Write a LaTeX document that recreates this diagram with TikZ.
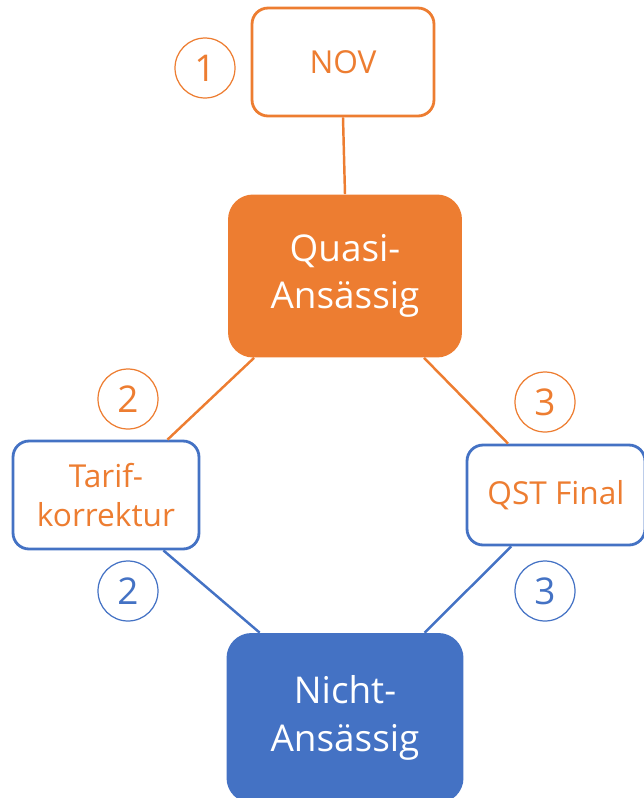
\documentclass[tikz,border=0pt]{standalone}
\usepackage{fontspec}
\setmainfont{Open Sans}
\usepackage{tikz}
\usetikzlibrary{
  positioning,
  calc
}
\definecolor{myOrange}{HTML}{ED7D31}
\definecolor{myBlue}{HTML}{4472C4}
\tikzstyle{framebox}=[draw, line width=1.6pt, fill=white, rounded corners=0.32cm, align=center, text=myOrange, font=\fontsize{18}{22}\selectfont]
\tikzstyle{solidbox}=[rounded corners=0.5cm, align=center, text=white, font=\fontsize{21}{27}\selectfont]
\tikzstyle{stepmark}=[circle, draw, line width=0.7pt, minimum size=1.2cm, inner sep=0pt, font=\fontsize{21}{21}\selectfont]
\tikzstyle{link}=[line width=1.4pt]

\begin{document}
\begin{tikzpicture}[x=0.02cm, y=-0.02cm]
      \useasboundingbox (0,0) rectangle (643,798);

      % 状態
      \node[framebox, draw=myOrange, minimum width=3.64cm, minimum height=2.16cm] (nov) at (343,62) {NOV};
      \node[solidbox, fill=myOrange, minimum width=4.68cm, minimum height=3.26cm] (quasi) at (345,276) {Quasi-\\Ansässig};
      \node[framebox, draw=myBlue, minimum width=3.72cm, minimum height=2.16cm] (tarif) at (106,495) {Tarif-\\korrektur};
      \node[framebox, draw=myBlue, minimum width=3.56cm, minimum height=2.0cm] (qst) at (556,495) {QST Final};
      \node[solidbox, fill=myBlue, minimum width=4.74cm, minimum height=3.4cm] (nicht) at (345,718) {Nicht-\\Ansässig};

      % 番号
      \node[stepmark, myOrange] (m1) at (205,68) {1};
      \node[stepmark, myOrange] (m2a) at (128,399) {2};
      \node[stepmark, myBlue] (m2b) at (128,591) {2};
      \node[stepmark, myOrange] (m3a) at (545,402) {3};
      \node[stepmark, myBlue] (m3b) at (545,591) {3};

      % 上側の線
      \draw[link, myOrange] (nov.south) -- (quasi.north);
      \draw[link, myOrange] (quasi.222) -- (tarif.42);
      \draw[link, myOrange] (quasi.-46) -- (qst.133);

      % 下側の線
      \draw[link, myBlue] (tarif.-44) -- (nicht.135);
      \draw[link, myBlue] (qst.229) -- (nicht.47);
    \end{tikzpicture}
\end{document}
